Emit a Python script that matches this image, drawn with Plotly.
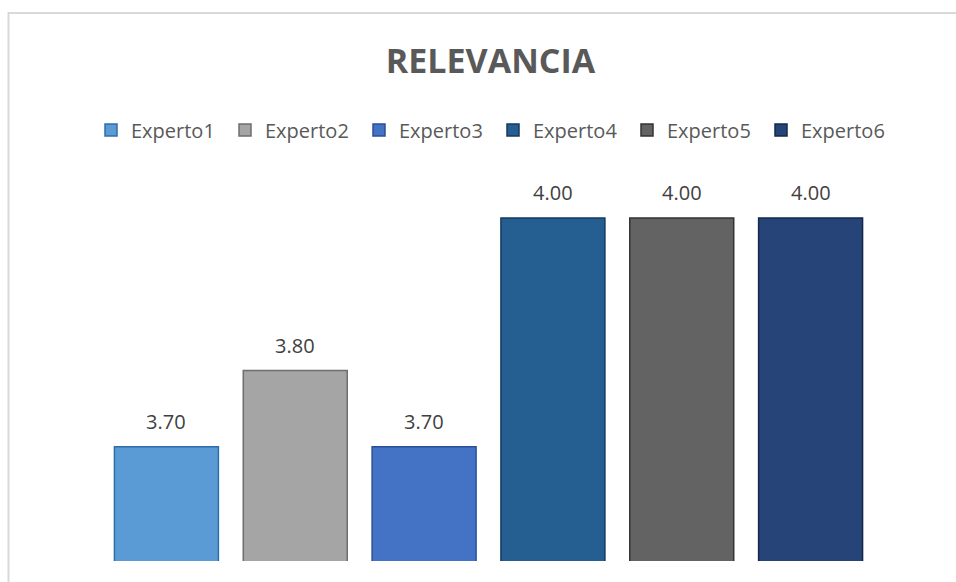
import plotly.graph_objects as go

series = ["Experto1", "Experto2", "Experto3", "Experto4", "Experto5", "Experto6"]
values = [3.70, 3.80, 3.70, 4.00, 4.00, 4.00]
colors = ["#5B9BD5", "#A5A5A5", "#4472C4", "#255E91", "#636363", "#264478"]
edge_colors = ["#2E6DA8", "#6E6E6E", "#2A4F99", "#153A5E", "#333333", "#14284A"]
title_text = "RELEVANCIA"

W, H = 956, 582
L, R, T, B = 102, 81, 180, 21
pw, ph = W - L - R, H - T - B

fig = go.Figure()
for s, v, c, ec in zip(series, values, colors, edge_colors):
    fig.add_trace(go.Bar(
        x=[s], y=[v], name=s, width=0.807,
        marker=dict(color=c, line=dict(color=ec, width=1.5)),
        hoverinfo="skip",
    ))
    fig.add_annotation(
        x=s, y=v, text=f"{v:.2f}", showarrow=False, yanchor="bottom", yshift=10,
        font=dict(family="Open Sans", size=20, color="#404040"),
    )

def px_x(p):
    return (p - L) / pw

def px_y(p):
    return (H - B - p) / ph

fig.add_shape(type="rect", xref="paper", yref="paper",
              x0=px_x(8.5), x1=px_x(990), y0=px_y(620), y1=px_y(13),
              line=dict(color="#D9D9D9", width=2), fillcolor="rgba(0,0,0,0)", layer="below")

fig.update_layout(
    width=W, height=H,
    margin=dict(l=L, r=R, t=T, b=B, autoexpand=False),
    paper_bgcolor="white", plot_bgcolor="white",
    barmode="overlay",
    title=dict(text=f"<b>{title_text}</b>", x=490.5 / W, xanchor="center", xref="container",
               y=1 - 61 / H, yanchor="middle", yref="container",
               font=dict(family="Open Sans", size=34, color="#595959")),
    showlegend=True,
    legend=dict(orientation="h", x=px_x(91), xanchor="left",
                y=px_y(130), yanchor="middle",
                entrywidth=89, entrywidthmode="pixels",
                font=dict(family="Open Sans", size=20, color="#595959"),
                itemclick=False, itemdoubleclick=False, traceorder="normal"),
    xaxis=dict(visible=False, range=[-0.5, 5.5], categoryorder="array", categoryarray=series),
    yaxis=dict(visible=False, range=[3.55, 4.05]),
)

fig.write_html("out.html", config={"displayModeBar": False})
